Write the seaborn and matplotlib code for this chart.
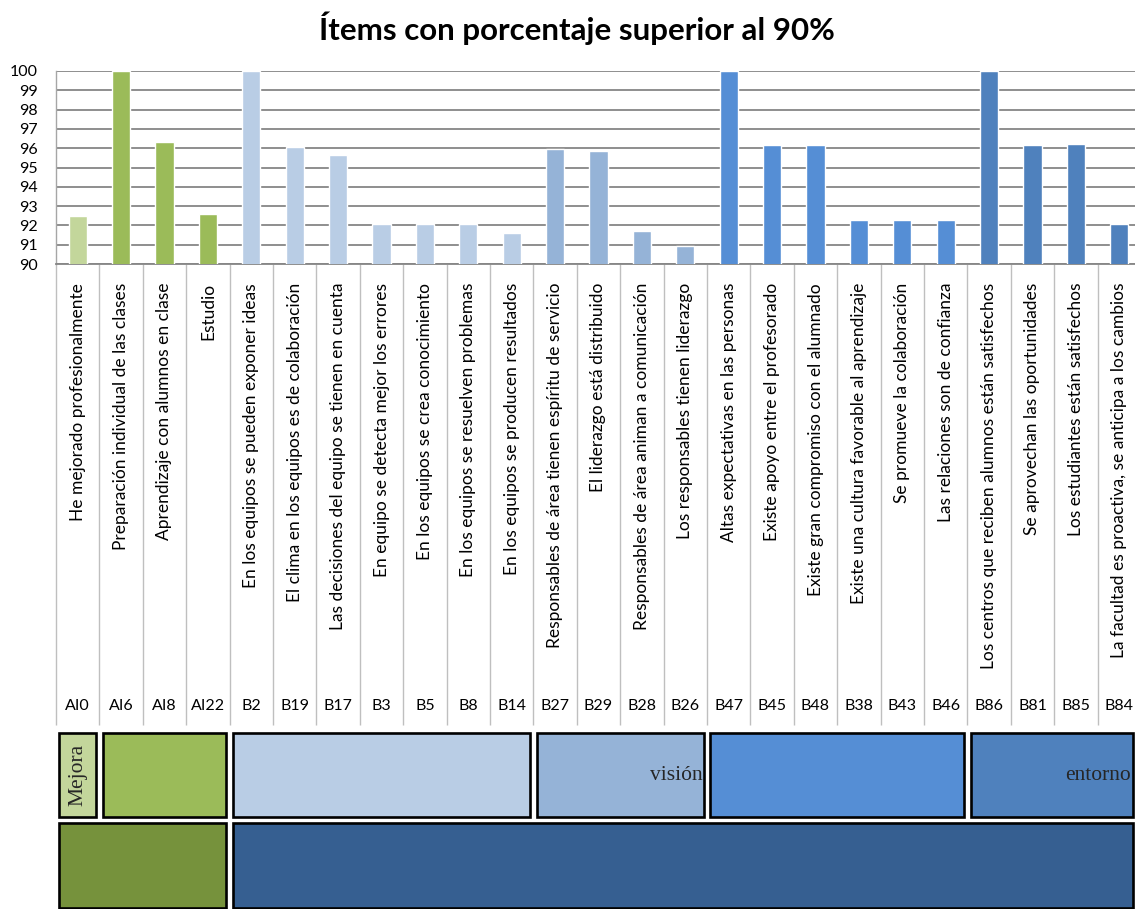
import numpy as np
import pandas as pd
import seaborn as sns
import matplotlib
matplotlib.use("Agg")
import matplotlib.pyplot as plt
from matplotlib.patches import Rectangle
import matplotlib.transforms as mtransforms

# ---------------- data ----------------
codes = ["AI0", "AI6", "AI8", "AI22", "B2", "B19", "B17", "B3", "B5", "B8", "B14",
         "B27", "B29", "B28", "B26", "B47", "B45", "B48", "B38", "B43", "B46",
         "B86", "B81", "B85", "B84"]
item_labels = [
    "He mejorado profesionalmente",
    "Preparación individual de las clases",
    "Aprendizaje con alumnos en clase",
    "Estudio",
    "En los equipos se pueden exponer ideas",
    "El clima en los equipos es de colaboración",
    "Las decisiones del equipo se tienen en cuenta",
    "En equipo se detecta mejor los errores",
    "En los equipos se crea conocimiento",
    "En los equipos se resuelven problemas",
    "En los equipos se producen resultados",
    "Responsables de área tienen espíritu de servicio",
    "El liderazgo está distribuido",
    "Responsables de área animan a comunicación",
    "Los responsables tienen liderazgo",
    "Altas expectativas en las personas",
    "Existe apoyo entre el profesorado",
    "Existe gran compromiso con el alumnado",
    "Existe una cultura favorable al aprendizaje",
    "Se promueve la colaboración",
    "Las relaciones son de confianza",
    "Los centros que reciben alumnos están satisfechos",
    "Se aprovechan las oportunidades",
    "Los estudiantes están satisfechos",
    "La facultad es proactiva, se anticipa a los cambios",
]
values = [92.5, 100, 96.3, 92.6, 100, 96.05, 95.65, 92.05, 92.05, 92.05, 91.6,
          95.95, 95.85, 91.7, 90.93, 100, 96.15, 96.15, 92.3, 92.3, 92.3,
          100, 96.15, 96.2, 92.05]

# first row of group boxes
group1_sizes = [1, 3, 7, 4, 6, 4]
group1_texts = ["Mejora", "", "", "visión", "", "entorno"]
group1_colors = ["#C3D69B", "#9BBB59", "#B9CDE5", "#95B3D7", "#558ED5", "#4F81BD"]
# second row of group boxes
group2_sizes = [4, 21]
group2_colors = ["#76923C", "#365F91"]

title = "Ítems con porcentaje superior al 90%"
yticks = list(range(90, 101))

# ---------------- figure ----------------
W, H = 1135, 909
DPI = 100
sns.set_theme(style="white")
plt.rcParams["font.family"] = ["Lato", "DejaVu Sans"]

fig = plt.figure(figsize=(W / DPI, H / DPI), dpi=DPI)
fig.patch.set_facecolor("white")

n = len(codes)
cat_w = 43.4
ax_left, ax_top, ax_bottom = 56, 71, 264
ax_right = ax_left + n * cat_w
ax = fig.add_axes([ax_left / W, 1 - ax_bottom / H, (ax_right - ax_left) / W,
                   (ax_bottom - ax_top) / H])

bar_colors = []
for size, col in zip(group1_sizes, group1_colors):
    bar_colors += [col] * size

df = pd.DataFrame({"code": codes, "value": values})
sns.barplot(data=df, x="code", y="value", hue="code", palette=bar_colors,
            order=codes, hue_order=codes, dodge=False, legend=False,
            width=0.42, saturation=1, ax=ax, zorder=3)

ax.set_ylim(90, 100)
ax.set_xlim(-0.5, n - 0.5)
ax.set_yticks(yticks)
ax.set_yticklabels([str(v) for v in yticks], fontsize=11.5, color="black")
ax.tick_params(axis="y", length=0, pad=13)
ax.yaxis.grid(True, color="#868686", linewidth=1.3, zorder=0)
ax.set_axisbelow(True)
for s in ["top", "right"]:
    ax.spines[s].set_visible(False)
ax.spines["bottom"].set_color("#868686")
ax.spines["bottom"].set_linewidth(1.3)
ax.spines["left"].set_color("#A6A6A6")
ax.spines["left"].set_linewidth(1.0)
ax.set_xlabel("")
ax.set_ylabel("")
ax.set_xticks([])

# category separators
ax_h_px = ax_bottom - ax_top
trans = mtransforms.blended_transform_factory(ax.transData, ax.transAxes)
ax.vlines(np.arange(-0.5, n, 1.0), (ax_bottom - 725) / ax_h_px, 0,
          colors="#BFBFBF", linewidth=1.0, transform=trans, clip_on=False)

# labels
for i, (lab, code) in enumerate(zip(item_labels, codes)):
    ax.text(i, (ax_bottom - 283) / ax_h_px, lab, rotation=90, ha="center",
            va="top", fontsize=12.5, color="black", transform=trans,
            clip_on=False)
    ax.text(i, (ax_bottom - 706) / ax_h_px, code, ha="center", va="center",
            fontsize=11.5, color="black", transform=trans, clip_on=False)

# title
fig.text(577 / W, 1 - 28 / H, title, ha="center", va="center",
         fontsize=22.5, fontweight="bold", color="black")

# group boxes
fig.canvas.draw()
right_visible = ax.transData.inverted().transform((W - 2.5, 0))[0]
btrans = mtransforms.blended_transform_factory(ax.transData, fig.transFigure)
inset = 0.08


def draw_row(sizes, colors, texts, y_top_px, y_bot_px):
    start = 0
    for k, (size, col) in enumerate(zip(sizes, colors)):
        x0 = start - 0.5 + inset
        x1 = min(start + size - 0.5 - inset, right_visible)
        y0 = 1 - y_bot_px / H
        h = (y_bot_px - y_top_px) / H
        rect = Rectangle((x0, y0), x1 - x0, h, facecolor=col,
                         edgecolor="black", linewidth=1.9,
                         transform=btrans, clip_on=False, zorder=5)
        ax.add_patch(rect)
        txt = texts[k] if texts else ""
        if txt:
            ymid = y0 + h / 2
            if size == 1:
                ax.text((x0 + x1) / 2, ymid, txt, rotation=90, ha="center",
                        va="center", fontsize=15.5, family="Liberation Serif",
                        transform=btrans, clip_on=False, zorder=6)
            else:
                ax.text(x1 - 0.03, ymid, txt, ha="right", va="center",
                        fontsize=15.5, family="Liberation Serif",
                        transform=btrans, clip_on=False, zorder=6)
        start += size


draw_row(group1_sizes, group1_colors, group1_texts, 733, 817)
draw_row(group2_sizes, group2_colors, None, 823, 907.5)

fig.savefig("out.png", dpi=DPI, facecolor="white")
